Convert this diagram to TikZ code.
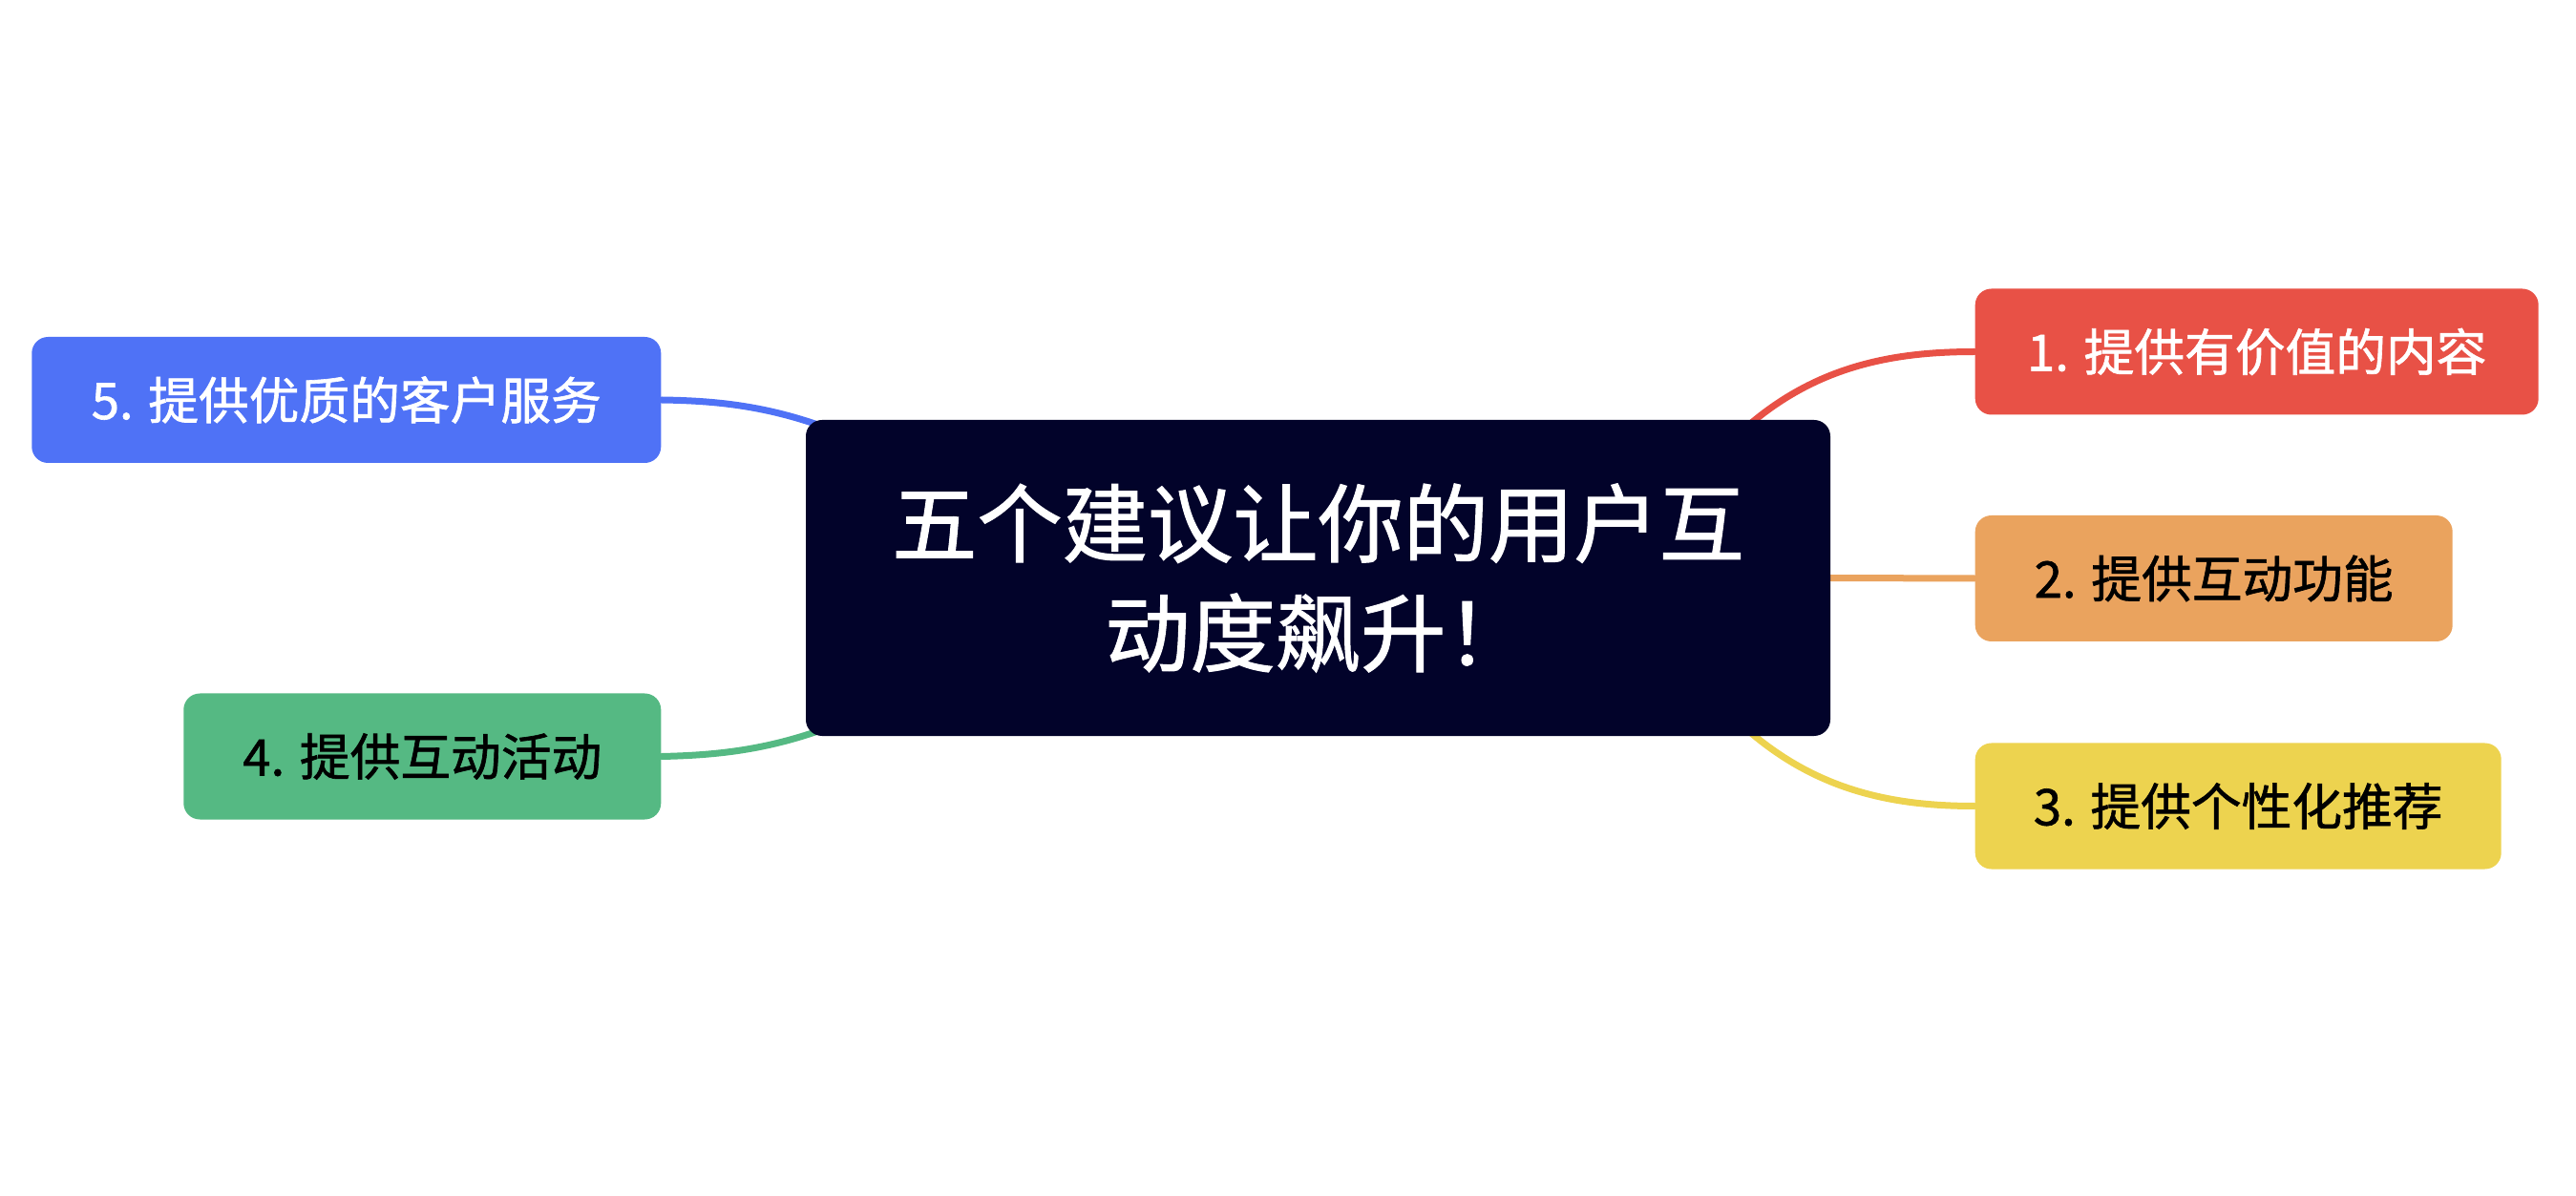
\documentclass[tikz,border=0pt]{standalone}
\usepackage{fontspec}
\setmainfont{Noto Sans CJK SC}[FakeBold=1.2]
\usepackage{tikz}
\usetikzlibrary{backgrounds}
\definecolor{rootbg}{HTML}{02032A}
\definecolor{tipred}{HTML}{E85146}
\definecolor{tiporange}{HTML}{EAA35E}
\definecolor{tipyellow}{HTML}{EDD34F}
\definecolor{tipgreen}{HTML}{55B983}
\definecolor{tipblue}{HTML}{4F72F6}

\begin{document}
\begin{tikzpicture}[
    tip/.style={rounded corners=0.17cm,inner sep=0pt,minimum height=1.32cm,align=center,font=\fontsize{15pt}{18pt}\selectfont},
    branch/.style={line width=0.07cm,line cap=round}
  ]
  \useasboundingbox (0,0) rectangle (26.98,12.52);
  \node[fill=rootbg,text=white,rounded corners=0.17cm,inner sep=0pt,minimum width=10.73cm,minimum height=3.31cm,align=center,font=\fontsize{25.4pt}{32.7pt}\selectfont] (root) at (13.805,6.465) {五个建议让你的用户互\\动度飙升！};
  \node[tip,fill=tipred,text=white,anchor=west,minimum width=5.90cm] (tip1) at (20.68,8.835) {1. 提供有价值的内容};
  \node[tip,fill=tiporange,text=black,anchor=west,minimum width=5.00cm] (tip2) at (20.68,6.46) {2. 提供互动功能};
  \node[tip,fill=tipyellow,text=black,anchor=west,minimum width=5.51cm] (tip3) at (20.68,4.075) {3. 提供个性化推荐};
  \node[tip,fill=tipgreen,text=black,anchor=east,minimum width=5.00cm] (tip4) at (6.93,4.595) {4. 提供互动活动};
  \node[tip,fill=tipblue,text=white,anchor=east,minimum width=6.59cm] (tip5) at (6.93,8.33) {5. 提供优质的客户服务};
  % branches start under the root box
  \coordinate (from1) at (17.7,7.4);
  \coordinate (from3) at (17.7,5.53);
  \coordinate (from4) at (9.0,5.03);
  \coordinate (from5) at (9.0,7.9);
  \begin{scope}[on background layer]
    \draw[branch,tipred] (from1) .. controls (18.6,8.6) and (19.6,8.835) .. (tip1.west);
    \draw[branch,tiporange] (root.east) -- (tip2.west);
    \draw[branch,tipyellow] (from3) .. controls (18.6,4.33) and (19.6,4.075) .. (tip3.west);
    \draw[branch,tipgreen] (tip4.east) .. controls (7.6,4.61) and (8.2,4.68) .. (from4);
    \draw[branch,tipblue] (tip5.east) .. controls (7.6,8.32) and (8.2,8.25) .. (from5);
  \end{scope}
\end{tikzpicture}
\end{document}
